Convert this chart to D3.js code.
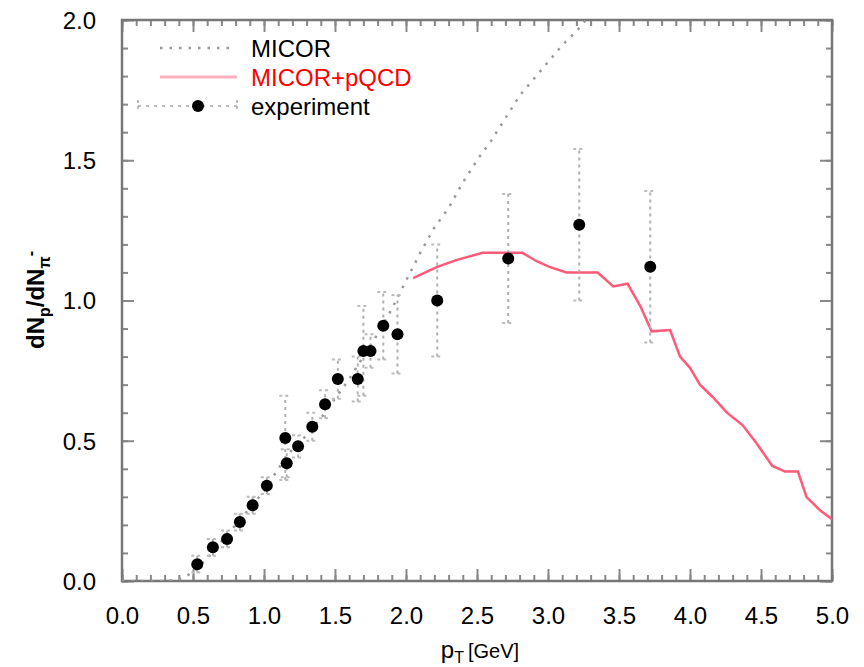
<!DOCTYPE html>
<html>
<head>
<meta charset="utf-8">
<script src="https://cdn.jsdelivr.net/npm/d3@7"></script>
<style>
  body { margin: 0; background: #fff; }
  text { font-family: "Liberation Sans", Arial, sans-serif; }
</style>
</head>
<body>
<div id="chart"></div>
<script>
// Experiment points (pT, ratio, error)
var expX = [0.53, 0.64, 0.74, 0.83, 0.92, 1.02, 1.15, 1.16, 1.24, 1.34, 1.43, 1.52, 1.66, 1.70, 1.75, 1.84, 1.94, 2.22, 2.72, 3.22, 3.72];
var expY = [0.06, 0.12, 0.15, 0.21, 0.27, 0.34, 0.51, 0.42, 0.48, 0.55, 0.63, 0.72, 0.72, 0.82, 0.82, 0.91, 0.88, 1.00, 1.15, 1.27, 1.12];
var expErr = [0.03, 0.03, 0.03, 0.03, 0.03, 0.03, 0.15, 0.05, 0.04, 0.05, 0.05, 0.07, 0.08, 0.16, 0.06, 0.12, 0.14, 0.20, 0.23, 0.27, 0.27];

// MICOR curve
var micorX = [0.0, 0.3, 0.4, 0.5, 0.6, 0.7, 0.8, 0.9, 1.0, 1.1, 1.2, 1.3, 1.4, 1.5, 1.6, 1.7, 1.8, 1.9, 2.0, 2.1, 2.2, 2.3, 2.4, 2.5, 2.6, 2.7, 2.8, 2.9, 3.0, 3.1, 3.2, 3.3];
var micorY = [0.0, 0.0, 0.005, 0.03, 0.08, 0.14, 0.20, 0.26, 0.32, 0.40, 0.47, 0.52, 0.58, 0.65, 0.72, 0.80, 0.88, 0.97, 1.07, 1.17, 1.26, 1.33, 1.42, 1.50, 1.57, 1.65, 1.73, 1.79, 1.85, 1.91, 1.96, 2.02];

// MICOR+pQCD curve
var pqcdX = [2.05, 2.22, 2.36, 2.54, 2.72, 2.82, 2.92, 3.01, 3.13, 3.35, 3.46, 3.56, 3.65, 3.73, 3.86, 3.93, 4.0, 4.07, 4.16, 4.26, 4.37, 4.47, 4.58, 4.67, 4.76, 4.82, 4.92, 5.0];
var pqcdY = [1.08, 1.12, 1.145, 1.17, 1.17, 1.17, 1.14, 1.12, 1.10, 1.10, 1.05, 1.06, 0.98, 0.89, 0.895, 0.80, 0.76, 0.70, 0.656, 0.60, 0.556, 0.49, 0.41, 0.39, 0.39, 0.30, 0.25, 0.22];

var xTicks = [0, 0.5, 1, 1.5, 2, 2.5, 3, 3.5, 4, 4.5, 5];
var yTicks = [0, 0.5, 1, 1.5, 2];
var legendLabels = ["MICOR", "MICOR+pQCD", "experiment"];

var W = 864, H = 667;
var margin = { top: 20, right: 32, bottom: 86, left: 122 };
var w = W - margin.left - margin.right;
var h = H - margin.top - margin.bottom;

var svg = d3.select("#chart").append("svg")
    .attr("width", W)
    .attr("height", H);

var g = svg.append("g")
    .attr("transform", `translate(${margin.left}, ${margin.top})`);

var x = d3.scaleLinear().domain([0, 5]).range([0, w]);
var y = d3.scaleLinear().domain([0, 2]).range([h, 0]);

var minorX = d3.range(0, 5.001, 0.1);
var minorY = d3.range(0, 2.001, 0.1);

// Clip for curves
g.append("clipPath").attr("id", "clip")
 .append("rect").attr("width", w).attr("height", h);

// Ticks on all four sides (pointing inward)
function tickAxis(axis, tr) {
    var a = g.append("g").attr("transform", tr).call(axis);
    a.select(".domain").remove();
    a.selectAll("line").attr("stroke", "#888").attr("stroke-width", 2);
    return a;
}
tickAxis(d3.axisBottom(x).tickValues(minorX).tickSize(-6).tickFormat(""), `translate(0,${h})`);
tickAxis(d3.axisTop(x).tickValues(minorX).tickSize(-6).tickFormat(""), "translate(0,0)");
tickAxis(d3.axisLeft(y).tickValues(minorY).tickSize(-6).tickFormat(""), "translate(0,0)");
tickAxis(d3.axisRight(y).tickValues(minorY).tickSize(-6).tickFormat(""), `translate(${w},0)`);
tickAxis(d3.axisTop(x).tickValues(xTicks).tickSize(-12).tickFormat(""), "translate(0,0)");
tickAxis(d3.axisRight(y).tickValues(yTicks).tickSize(-12).tickFormat(""), `translate(${w},0)`);

var xAxis = tickAxis(d3.axisBottom(x).tickValues(xTicks).tickSize(-12).tickPadding(26).tickFormat(d3.format(".1f")), `translate(0,${h})`);
var yAxis = tickAxis(d3.axisLeft(y).tickValues(yTicks).tickSize(-12).tickPadding(26).tickFormat(d3.format(".1f")), "translate(0,0)");
xAxis.selectAll("text").style("font-size", "24px").attr("fill", "#000");
yAxis.selectAll("text").style("font-size", "24px").attr("fill", "#000").attr("dy", "0.35em");

// Frame
g.append("rect")
    .attr("width", w).attr("height", h)
    .attr("fill", "none")
    .attr("stroke", "#777")
    .attr("stroke-width", 2.5);

// MICOR dotted curve
var lineGen = d3.line()
    .x(function(d) { return x(d[0]); })
    .y(function(d) { return y(d[1]); });

g.append("path")
    .datum(d3.zip(micorX, micorY))
    .attr("clip-path", "url(#clip)")
    .attr("d", lineGen)
    .attr("fill", "none")
    .attr("stroke", "#999")
    .attr("stroke-width", 2.5)
    .attr("stroke-dasharray", "2.5,7");

// MICOR+pQCD curve
g.append("path")
    .datum(d3.zip(pqcdX, pqcdY))
    .attr("d", lineGen)
    .attr("fill", "none")
    .attr("stroke", "#ff5a78")
    .attr("stroke-width", 2.5);

// Error bars
var expData = expX.map(function(d, i) { return { x: d, y: expY[i], e: expErr[i] }; });
var eb = g.append("g").selectAll("g").data(expData).enter().append("g");
eb.append("line")
    .attr("x1", d => x(d.x)).attr("x2", d => x(d.x))
    .attr("y1", d => y(d.y - d.e)).attr("y2", d => y(d.y + d.e))
    .attr("stroke", "#b0b0b0").attr("stroke-width", 2)
    .attr("stroke-dasharray", "3,4");
eb.selectAll(".cap").data(d => [[d.x, d.y - d.e], [d.x, d.y + d.e]]).enter().append("line")
    .attr("x1", d => x(d[0]) - 6).attr("x2", d => x(d[0]) + 6)
    .attr("y1", d => y(d[1])).attr("y2", d => y(d[1]))
    .attr("stroke", "#bbb").attr("stroke-width", 2)
    .attr("stroke-dasharray", "3,3");

// Points
g.append("g").selectAll("circle").data(expData).enter().append("circle")
    .attr("cx", d => x(d.x))
    .attr("cy", d => y(d.y))
    .attr("r", 6)
    .attr("fill", "#000");

// Legend
var leg = svg.append("g");
var rowY = [48, 77, 106];
leg.append("line").attr("x1", 160).attr("x2", 236).attr("y1", rowY[0]).attr("y2", rowY[0])
    .attr("stroke", "#999").attr("stroke-width", 2.5).attr("stroke-dasharray", "2.5,7");
leg.append("line").attr("x1", 160).attr("x2", 237).attr("y1", rowY[1]).attr("y2", rowY[1])
    .attr("stroke", "#ffb0c0").attr("stroke-width", 3);
leg.append("line").attr("x1", 138).attr("x2", 237).attr("y1", rowY[2]).attr("y2", rowY[2])
    .attr("stroke", "#bbb").attr("stroke-width", 2).attr("stroke-dasharray", "3,5");
[138, 237].forEach(function(cx) {
    leg.append("line").attr("x1", cx).attr("x2", cx).attr("y1", rowY[2] - 6).attr("y2", rowY[2] + 6)
        .attr("stroke", "#bbb").attr("stroke-width", 2).attr("stroke-dasharray", "3,3");
});
leg.append("circle").attr("cx", 198).attr("cy", rowY[2]).attr("r", 6).attr("fill", "#000");

leg.selectAll("text.lbl").data(legendLabels).enter().append("text")
    .attr("class", "lbl")
    .attr("x", 251)
    .attr("y", (d, i) => rowY[i] + 9)
    .style("font-size", "24px")
    .attr("fill", (d, i) => i === 1 ? "#ff0000" : "#000")
    .text(d => d);

// X-axis label
var xl = svg.append("text")
    .attr("x", 480).attr("y", 658)
    .attr("text-anchor", "middle")
    .style("font-size", "24px");
xl.append("tspan").text("p");
xl.append("tspan").attr("dy", 5).style("font-size", "16px").text("T");
xl.append("tspan").attr("dy", -5).attr("dx", 4).style("font-size", "20px").text("[GeV]");

// Y-axis label
var yl = svg.append("text")
    .attr("transform", "translate(44, 300) rotate(-90)")
    .attr("text-anchor", "middle")
    .style("font-size", "24px")
    .style("font-weight", "bold");
yl.append("tspan").text("dN");
yl.append("tspan").attr("dy", 6).style("font-size", "16px").text("p");
yl.append("tspan").attr("dy", -6).text("/dN");
yl.append("tspan").attr("dy", 6).style("font-size", "16px").text("π");
yl.append("tspan").attr("dy", -14).style("font-size", "16px").text("-");
</script>
</body>
</html>
